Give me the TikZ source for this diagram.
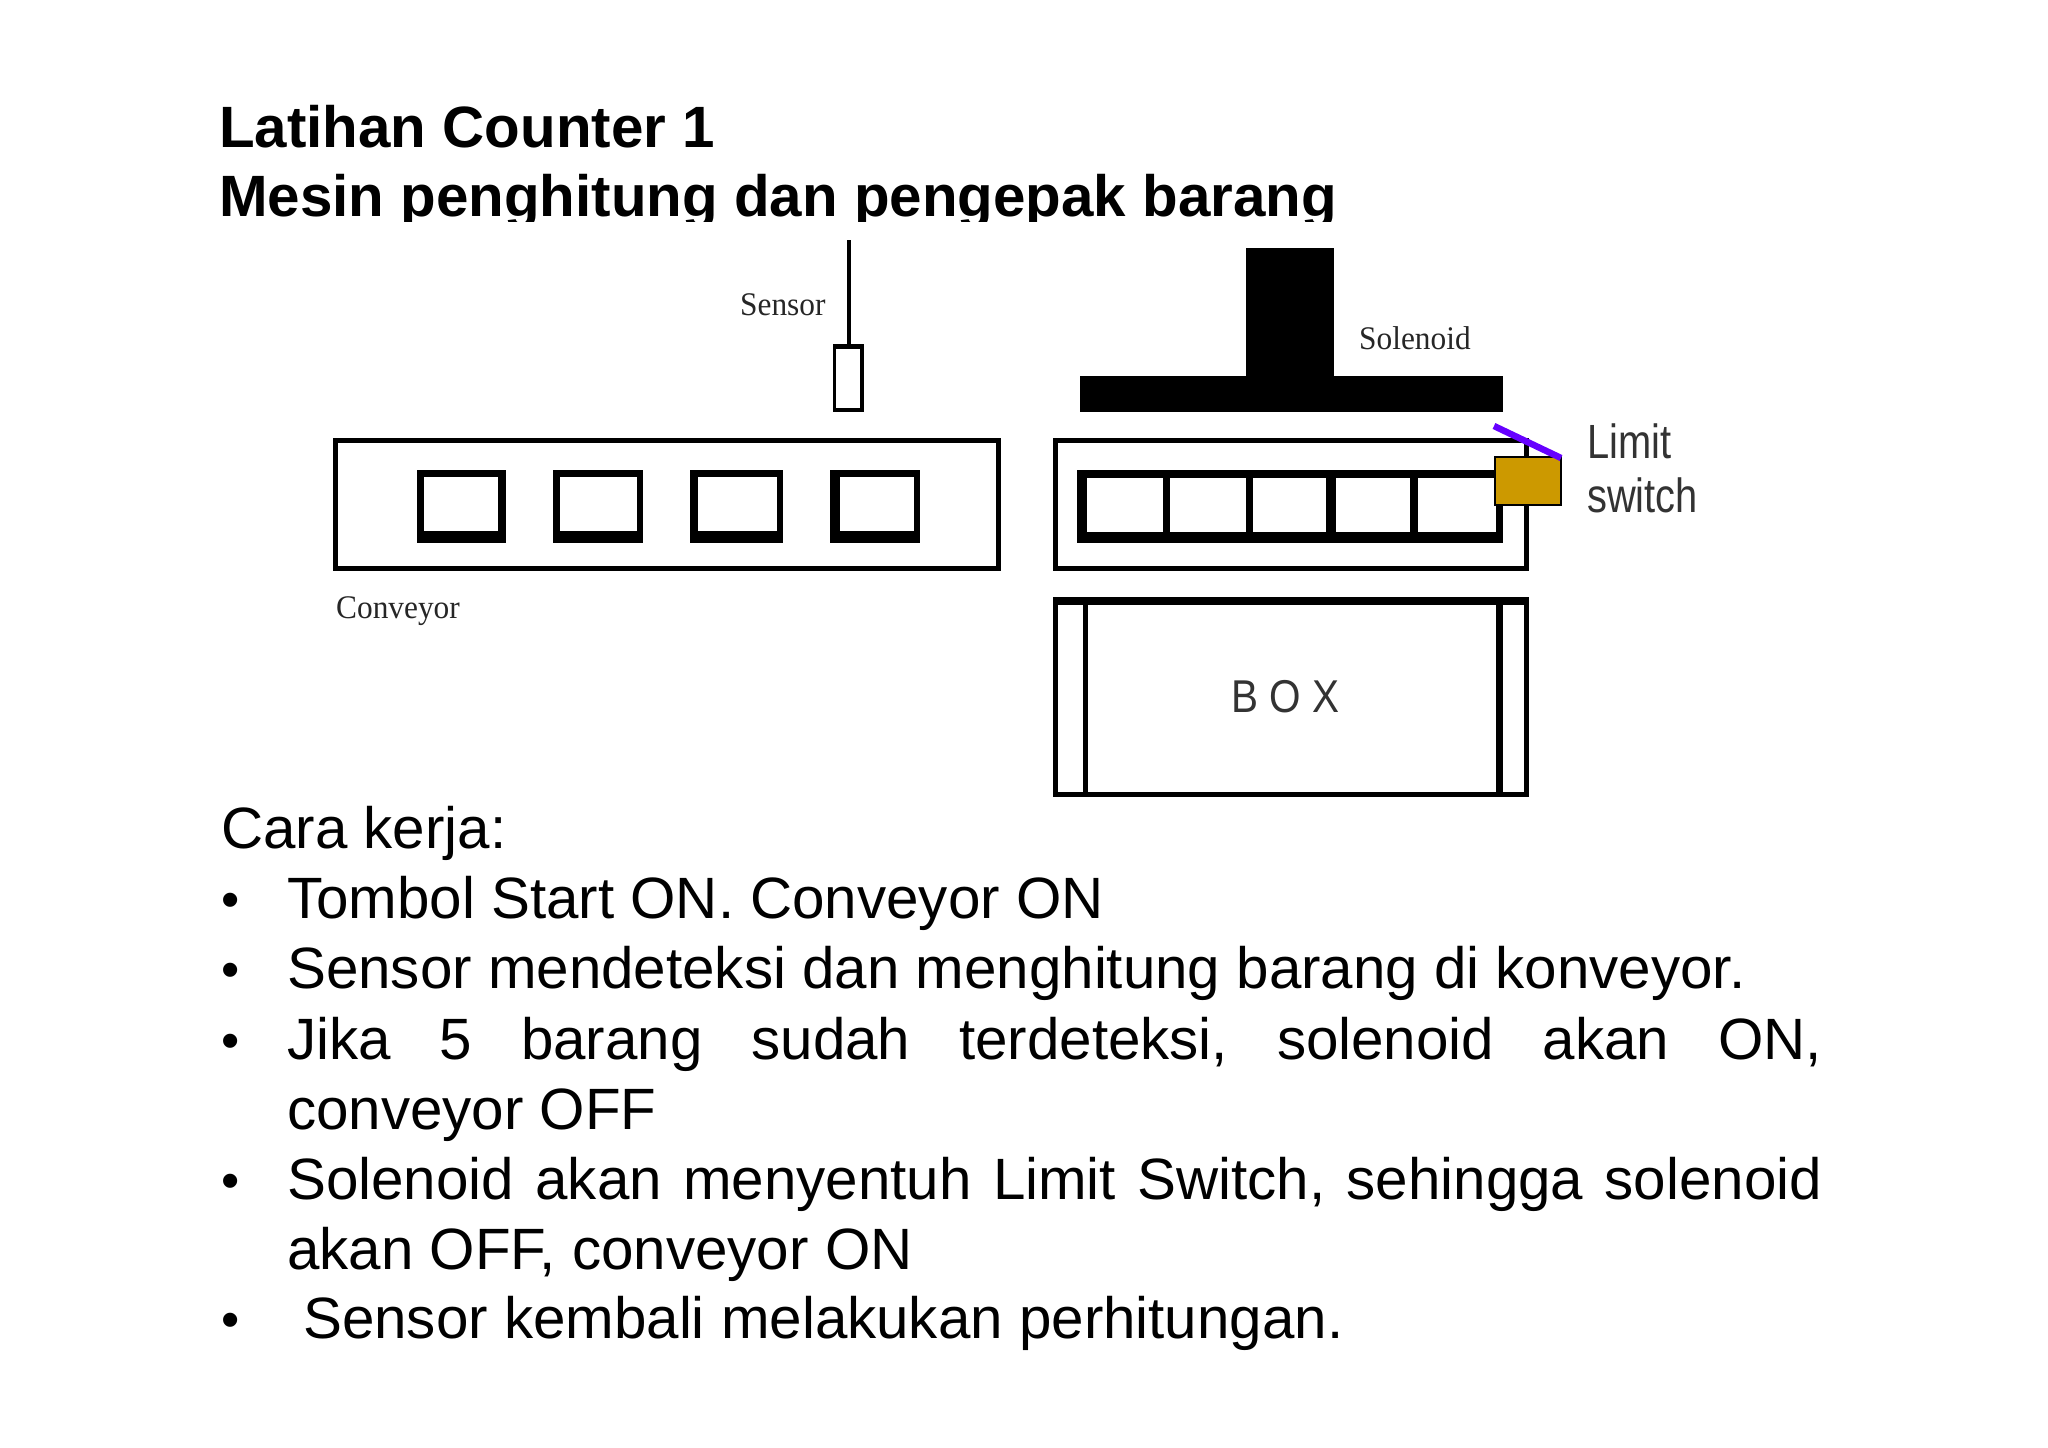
\documentclass[tikz,border=0pt]{standalone}
\usepackage{fontspec}
\setmainfont{Liberation Sans}
\newfontfamily\serifish{Liberation Serif}
\frenchspacing
\tikzset{
  x=1pt,y=-1pt,
  heading/.style={anchor=base west,inner sep=0pt,font=\fontsize{58.3}{70}\selectfont\bfseries,text=black},
  bodyline/.style={anchor=base west,inner sep=0pt,font=\fontsize{58.3}{70}\selectfont,text=black},
  bulletmark/.style={anchor=base,inner sep=0pt,font=\fontsize{52}{70}\selectfont,text=black},
  scanlabel/.style={anchor=base west,inner sep=0pt,font=\fontsize{33}{33}\selectfont\serifish,text=black!85,xscale=0.95,transform shape},
  shotlabel/.style={anchor=base west,inner sep=0pt,font=\fontsize{48}{48}\selectfont,text=black!80,xscale=0.83,transform shape},
  outline/.style={draw=black,line width=5pt,fill=white},
}
\definecolor{limitgold}{HTML}{CC9900}
\definecolor{limitpurple}{HTML}{6600FF}
\begin{document}
\begin{tikzpicture}
\useasboundingbox (0,0) rectangle (2048,1448);
\fill[white] (0,0) rectangle (2048,1448);
% headings
\node[heading] (t1) at (219,147) {Latihan Counter 1};
\node[heading] (t2) at (219,216) {Mesin penghitung dan pengepak barang};
% pasted figure covers the descenders of the second heading
\fill[white] (300,222) rectangle (1720,812);
% left conveyor
\draw[outline] (335.5,440.5) rectangle (998.5,568.5);
\foreach \a/\b/\c/\d in {417/424/498/506,553/560/637/643,690/698/776.5/783,830/840/914/920}{
  \fill[black] (\a,470) rectangle (\d,542.5);
  \fill[white] (\b,477) rectangle (\c,531);
}
% sensor
\fill[black] (846.5,240) rectangle (851,344);
\fill[black] (832.5,344) rectangle (864,412);
\fill[white] (836,348.5) rectangle (860,408);
\node[scanlabel] (sensor) at (740,315) {Sensor};
\node[scanlabel] (conv) at (336,618) {Conveyor};
% solenoid
\fill[black] (1246,248) rectangle (1334,380);
\fill[black] (1079.5,376) rectangle (1503,412);
\node[scanlabel] (sol) at (1359,349) {Solenoid};
% right conveyor
\draw[outline] (1055.5,440.5) rectangle (1526.5,568.5);
\fill[black] (1077,469.5) rectangle (1503,542.6);
\foreach \a/\b in {1087/1163,1170/1246,1253/1326,1336/1410,1417.5/1496}{
  \fill[white] (\a,477.5) rectangle (\b,531.5);
}
% limit switch
\draw[black,line width=2pt,fill=limitgold] (1495,457) rectangle (1561,505);
\draw[limitpurple,line width=6.5pt] (1494,426) -- (1561,458);
\node[shotlabel] (lim1) at (1587,458) {Limit};
\node[shotlabel] (lim2) at (1587,512) {switch};
% box
\draw[outline] (1055.5,600) rectangle (1526.5,794.5);
\fill[black] (1053,597) rectangle (1529,605);
\fill[black] (1082.5,600) rectangle (1087.5,795);
\fill[black] (1496,600) rectangle (1503,795);
\node[anchor=base west,inner sep=0pt,font=\fontsize{46}{46}\selectfont,text=black!80,xscale=0.88,transform shape] (box) at (1231,712) {B O X};
% body text
\node[bodyline] (c0) at (221,848) {Cara kerja:};
\node[bulletmark] (b1) at (231,917) {•};
\node[bodyline] (c1) at (287,918) {Tombol Start ON. Conveyor ON};
\node[bulletmark] (b2) at (231,987) {•};
\node[bodyline] (c2) at (287,988) {Sensor mendeteksi dan menghitung barang di konveyor.};
\node[bulletmark] (b3) at (231,1058) {•};
\node[bodyline] (c3) at (287,1059) {\makebox[1535pt][s]{Jika 5 barang sudah terdeteksi, solenoid akan ON,}};
\node[bodyline] (c4) at (287,1129) {conveyor OFF};
\node[bulletmark] (b4) at (231,1198) {•};
\node[bodyline] (c5) at (287,1199) {\makebox[1535pt][s]{Solenoid akan menyentuh Limit Switch, sehingga solenoid}};
\node[bodyline] (c6) at (287,1269) {akan OFF, conveyor ON};
\node[bulletmark] (b5) at (231,1337) {•};
\node[bodyline] (c7) at (303,1338) {Sensor kembali melakukan perhitungan.};
\end{tikzpicture}
\end{document}
